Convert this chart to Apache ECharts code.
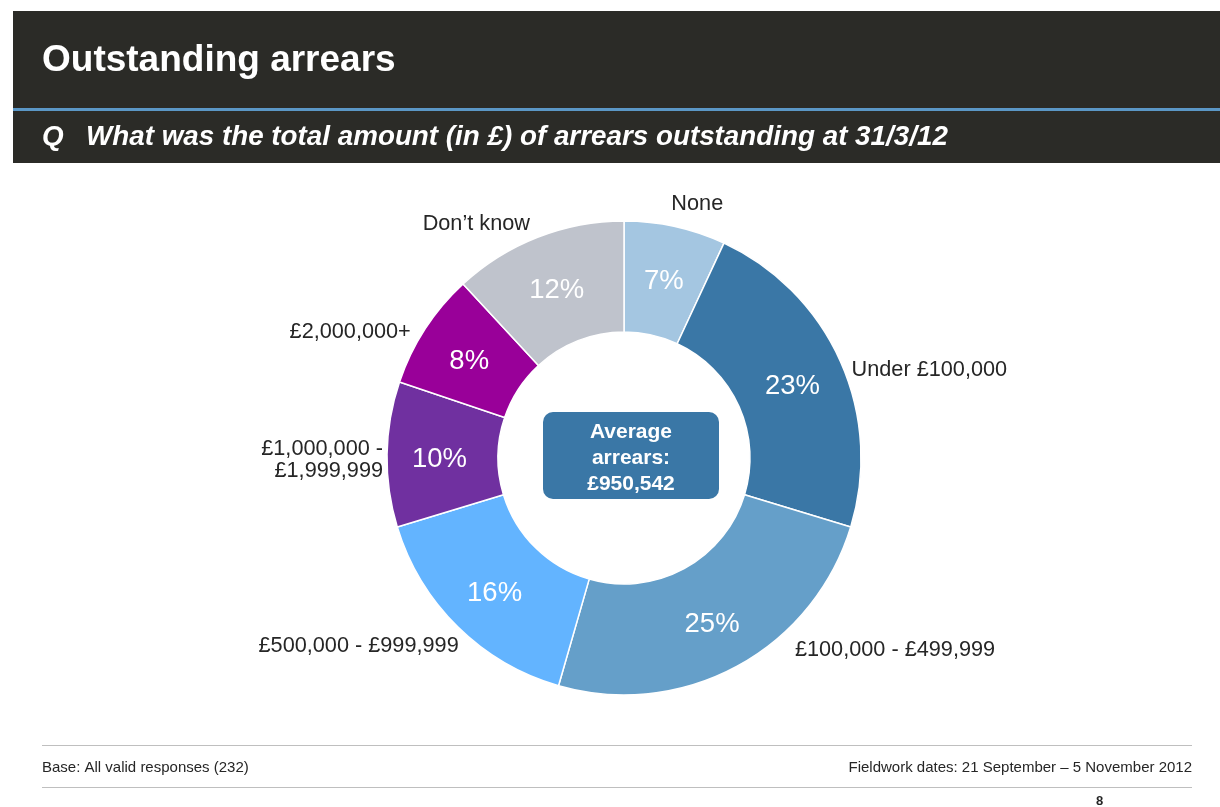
<!DOCTYPE html>
<html>
<head>
<meta charset="utf-8">
<title>Outstanding arrears</title>
<script src="https://cdn.jsdelivr.net/npm/echarts@6/dist/echarts.min.js"></script>
<style>
  html, body { margin: 0; padding: 0; background: #ffffff; }
  #chart { width: 1220px; height: 807px; }
</style>
</head>
<body>
<div id="chart"></div>
<script>
// answer categories, clockwise from 12 o'clock
var categories = ['None', 'Under £100,000', '£100,000 - £499,999', '£500,000 - £999,999',
  '£1,000,000 -\n£1,999,999', '£2,000,000+', 'Don’t know'];
// share of respondents (%)
var shares = [7, 23, 25, 16, 10, 8, 12];
var sliceColors = ['#a4c6e1', '#3a77a6', '#659fc9', '#63b4ff', '#7030a0', '#990099', '#bfc3cc'];
// small shifts of the outside labels, [dx, dy]
var labelNudge = [[-10, -13], [-2, 13], [49, -25], [12, 12], [10, 6], [-2, 8], [0, -4]];

var averageText = 'Average\narrears:\n£950,542';
var baseText = 'Base: All valid responses (232)';
var fieldworkText = 'Fieldwork dates: 21 September – 5 November 2012';

var font = '"Liberation Sans", Arial, sans-serif';

var pieData = categories.map(function (name, i) {
  return { name: name, value: shares[i], itemStyle: { color: sliceColors[i] } };
});

var chart = echarts.init(document.getElementById('chart'), null, { renderer: 'canvas' });

var option = {
  backgroundColor: '#ffffff',
  animation: false,
  graphic: [
    // header bar
    { type: 'rect', shape: { x: 13, y: 11, width: 1207, height: 97 }, style: { fill: '#2b2b27' } },
    { type: 'rect', shape: { x: 13, y: 108, width: 1207, height: 3 }, style: { fill: '#5b97c6' } },
    { type: 'rect', shape: { x: 13, y: 111, width: 1207, height: 52 }, style: { fill: '#2b2b27' } },
    {
      type: 'text', left: 42, top: 42,
      style: { text: 'Outstanding arrears', fill: '#ffffff', font: 'bold 37px ' + font }
    },
    {
      type: 'text', left: 42, top: 123,
      style: { text: 'Q', fill: '#ffffff', font: 'italic bold 27.8px ' + font }
    },
    {
      type: 'text', left: 86, top: 123,
      style: { text: 'What was the total amount (in £) of arrears outstanding at 31/3/12', fill: '#ffffff', font: 'italic bold 27.8px ' + font }
    },
    // centre box
    {
      type: 'rect', shape: { x: 543, y: 412, width: 176, height: 87, r: 10 },
      style: { fill: '#3a77a6' }, z: 10
    },
    {
      type: 'text', x: 631, y: 458, z: 11,
      style: {
        text: averageText, fill: '#ffffff', font: 'bold 21px ' + font,
        align: 'center', verticalAlign: 'middle', lineHeight: 26
      }
    },
    // footer
    { type: 'rect', shape: { x: 42, y: 745, width: 1150, height: 1 }, style: { fill: '#bfbfbf' } },
    { type: 'rect', shape: { x: 42, y: 787, width: 1150, height: 1 }, style: { fill: '#bfbfbf' } },
    {
      type: 'text', left: 42, top: 760,
      style: { text: baseText, fill: '#262626', font: '15px ' + font }
    },
    {
      type: 'text', right: 28, top: 760,
      style: { text: fieldworkText, fill: '#262626', font: '15px ' + font }
    },
    {
      type: 'text', left: 1096, top: 795,
      style: { text: '8', fill: '#262626', font: 'bold 13px ' + font }
    }
  ],
  series: [
    {
      type: 'pie',
      center: [624, 458],
      radius: [126, 237],
      startAngle: 90,
      clockwise: true,
      avoidLabelOverlap: false,
      silent: true,
      itemStyle: { borderColor: '#ffffff', borderWidth: 1.5 },
      label: {
        show: true,
        position: 'inside',
        formatter: '{c}%',
        color: '#ffffff',
        fontFamily: font,
        fontSize: 27.5
      },
      labelLayout: { dy: 4 },
      labelLine: { show: false },
      data: pieData
    },
    {
      type: 'pie',
      center: [624, 458],
      radius: [126, 237],
      startAngle: 90,
      clockwise: true,
      avoidLabelOverlap: false,
      silent: true,
      itemStyle: { color: 'rgba(0,0,0,0)', borderWidth: 0 },
      label: {
        show: true,
        position: 'outside',
        formatter: '{b}',
        color: '#262626',
        fontFamily: font,
        fontSize: 21.7,
        lineHeight: 22,
        distanceToLabelLine: 4
      },
      labelLine: { show: false, length: 10, length2: 0 },
      labelLayout: function (params) {
        var n = labelNudge[params.dataIndex];
        return { dx: n[0], dy: n[1] };
      },
      data: categories.map(function (name, i) {
        return { name: name, value: shares[i] };
      })
    }
  ]
};

chart.setOption(option);
</script>
</body>
</html>
